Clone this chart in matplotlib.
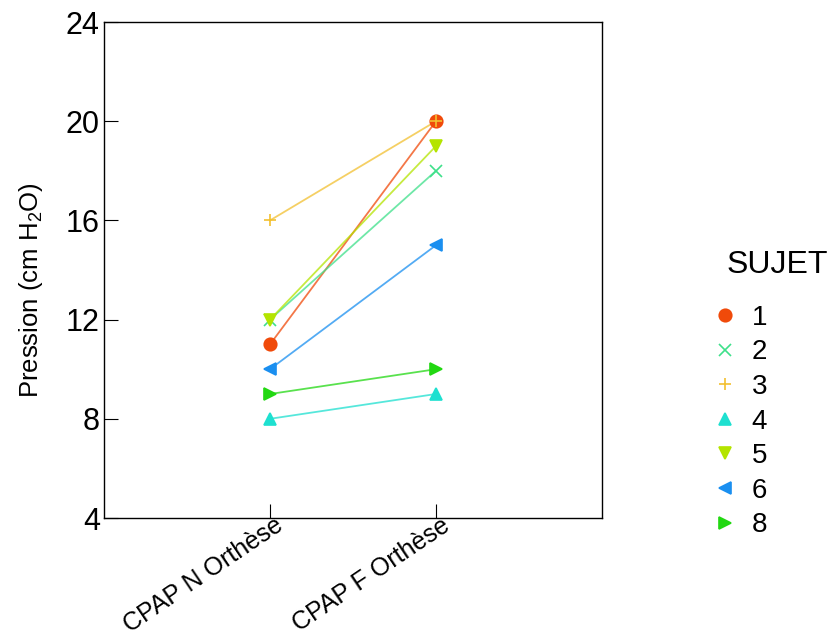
import matplotlib
matplotlib.use("Agg")
import matplotlib.pyplot as plt
from matplotlib.transforms import ScaledTranslation

plt.rcParams['font.family'] = ['Liberation Sans', 'DejaVu Sans']
plt.rcParams['mathtext.default'] = 'regular'

conditions = ["CPAP N Orthèse", "CPAP F Orthèse"]
sujets = ["1", "2", "3", "4", "5", "6", "8"]
pression = [
    [11, 20],
    [12, 18],
    [16, 20],
    [8, 9],
    [12, 19],
    [10, 15],
    [9, 10],
]
colors = ["#f04a0a", "#3ee08a", "#f2c030", "#1ee0d0", "#b4e400", "#1a8ff0", "#22d812"]
markers = ["o", "x", "+", "^", "v", "<", ">"]

fig = plt.figure(figsize=(8.32, 6.39), dpi=100)
ax = fig.add_axes([104/832, 1-518/639, 498/832, 496/639])

x = [1, 2]
for s, y, c, m in zip(sujets, pression, colors, markers):
    ax.plot(x, y, color=c, alpha=0.75, lw=1.3, zorder=2)
    ax.plot(x, y, linestyle='none', marker=m, color=c, markersize=9,
            markeredgewidth=1.2, label=s, zorder=3)

ax.set_xlim(0, 3)
ax.set_ylim(4, 24)
ax.set_yticks([4, 8, 12, 16, 20, 24])
ax.set_xticks(x)
ax.set_xticklabels([])
# rotated category labels, nudged right of the tick like the original
shift = ScaledTranslation(0.11, -0.05, fig.dpi_scale_trans)
for xi, lab in zip(x, conditions):
    ax.text(xi, 0, lab, transform=ax.get_xaxis_transform() + shift,
            rotation=34, ha='right', va='center', rotation_mode='anchor',
            fontsize=18, clip_on=False)
ax.tick_params(axis='y', direction='in', length=10, labelsize=22, pad=3)
ax.tick_params(axis='x', direction='in', length=10)
ax.set_ylabel("Pression (cm H$_2$O)", fontsize=18.5)
ax.yaxis.set_label_coords(-0.118, 0.46)
for sp in ax.spines.values():
    sp.set_linewidth(1.0)

fig.text(727/832, 1-265/639, "SUJET", fontsize=23, ha='left', va='center')
leg = ax.legend(loc='upper left', bbox_to_anchor=(1.219, 0.43), frameon=False,
                fontsize=20, handletextpad=0.46,
                labelspacing=0.31, handlelength=1.0, markerfirst=True,
                borderpad=0, borderaxespad=0)

fig.savefig("out.png", dpi=100)
